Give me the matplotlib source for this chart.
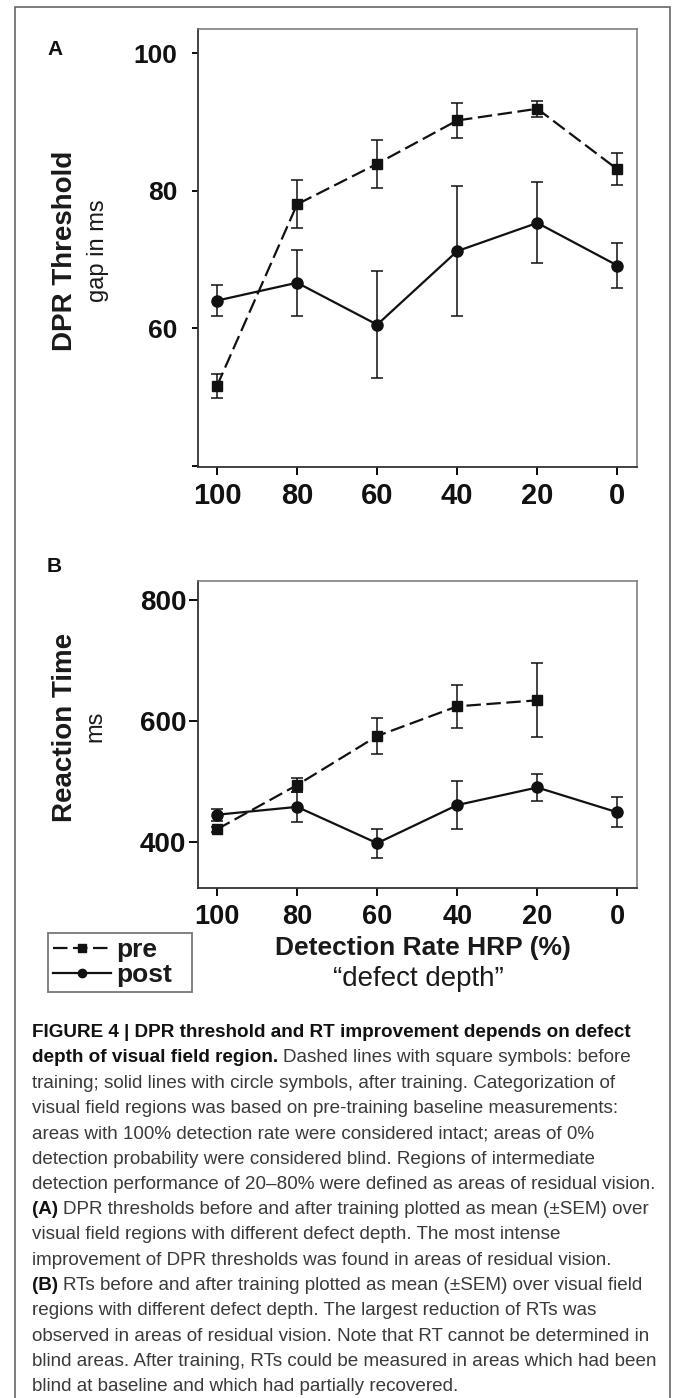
import numpy as np
import matplotlib
matplotlib.use('Agg')
import matplotlib.pyplot as plt
from matplotlib.patches import Rectangle

plt.rcParams['font.family'] = ['Liberation Sans', 'DejaVu Sans']

# ---------------- data ----------------
detection = [100, 80, 60, 40, 20, 0]
xtick_labels = ['100', '80', '60', '40', '20', '0']

dpr_pre = [51.6, 78.0, 83.9, 90.2, 91.9, 83.1]
dpr_pre_sem = [1.7, 3.5, 3.5, 2.5, 1.2, 2.3]
dpr_post = [64.0, 66.6, 60.5, 71.2, 75.3, 69.1]
dpr_post_sem = [2.3, 4.8, 7.8, 9.4, 5.9, 3.3]

rt_pre = [421, 494, 575, 624, 634, np.nan]
rt_pre_sem = [4, 12, 29, 36, 61, np.nan]
rt_post = [445, 458, 398, 461, 490, 449]
rt_post_sem = [10, 25, 24, 40, 23, 25]

dpr_yticks = [40, 60, 80, 100]
dpr_yticklabels = ['', '60', '80', '100']
rt_yticks = [400, 600, 800]
rt_yticklabels = ['400', '600', '800']

caption_lines = [
    [("FIGURE 4 | DPR threshold and RT improvement depends on defect", True)],
    [("depth of visual field region.", True), ("Dashed lines with square symbols: before", False)],
    [("training; solid lines with circle symbols, after training. Categorization of", False)],
    [("visual field regions was based on pre-training baseline measurements:", False)],
    [("areas with 100% detection rate were considered intact; areas of 0%", False)],
    [("detection probability were considered blind. Regions of intermediate", False)],
    [("detection performance of 20\u201380% were defined as areas of residual vision.", False)],
    [("(A)", True), ("DPR thresholds before and after training plotted as mean (\u00b1SEM) over", False)],
    [("visual field regions with different defect depth. The most intense", False)],
    [("improvement of DPR thresholds was found in areas of residual vision.", False)],
    [("(B)", True), ("RTs before and after training plotted as mean (\u00b1SEM) over visual field", False)],
    [("regions with different defect depth. The largest reduction of RTs was", False)],
    [("observed in areas of residual vision. Note that RT cannot be determined in", False)],
    [("blind areas. After training, RTs could be measured in areas which had been", False)],
    [("blind at baseline and which had partially recovered.", False)],
]

# ---------------- figure ----------------
W, H = 673, 1398
fig = plt.figure(figsize=(W / 100, H / 100), dpi=100)
fig.patch.set_facecolor('white')


def fx(px):
    return px / W


def fy(py):
    return 1 - py / H


PT = 72 / 100  # points per pixel

axA = fig.add_axes([fx(198), fy(467), fx(637) - fx(198), fy(29) - fy(467)])
axB = fig.add_axes([fx(198), fy(888), fx(637) - fx(198), fy(581) - fy(888)])

INK = '#111111'


def draw(ax, pre, pre_e, post, post_e):
    ax.errorbar(detection, post, yerr=post_e, fmt='none', ecolor=INK,
                elinewidth=1.1, capsize=6 * PT, capthick=1.1, zorder=2)
    ax.errorbar(detection, pre, yerr=pre_e, fmt='none', ecolor=INK,
                elinewidth=1.1, capsize=6 * PT, capthick=1.1, zorder=2)
    lpost, = ax.plot(detection, post, ls='-', color=INK, lw=1.6,
                     marker='o', ms=8, mfc=INK, mec=INK, zorder=3)
    lpre, = ax.plot(detection, pre, ls=(0, (6.5, 2.5)), color=INK, lw=1.6,
                    marker='s', ms=7.3, mfc=INK, mec=INK, zorder=3)
    return lpre, lpost


draw(axA, dpr_pre, dpr_pre_sem, dpr_post, dpr_post_sem)
lpre, lpost = draw(axB, rt_pre, rt_pre_sem, rt_post, rt_post_sem)

for ax in (axA, axB):
    ax.set_xlim(104.75, -4.9)
    ax.set_xticks(detection)
    ax.set_xticklabels(xtick_labels, fontweight='bold')
    for s in ('left', 'bottom'):
        ax.spines[s].set_color('#333333')
        ax.spines[s].set_linewidth(1.3)
    for s in ('top', 'right'):
        ax.spines[s].set_color('#777777')
        ax.spines[s].set_linewidth(1.1)
    ax.set_facecolor('white')

axA.set_ylim(39.8, 103.5)
axA.set_yticks(dpr_yticks)
axA.set_yticklabels(dpr_yticklabels, fontweight='bold')
axA.tick_params(axis='x', direction='out', length=8 * PT, width=2 * PT,
                labelsize=21, pad=5, colors='#111111')
axA.tick_params(axis='y', direction='out', length=6 * PT, width=2 * PT,
                labelsize=19, pad=10.5, colors='#111111')

axB.set_ylim(324, 831)
axB.set_yticks(rt_yticks)
axB.set_yticklabels(rt_yticklabels, fontweight='bold')
axB.tick_params(axis='x', direction='out', length=8 * PT, width=2 * PT,
                labelsize=19.5, pad=6, colors='#111111')
axB.tick_params(axis='y', direction='out', length=9 * PT, width=2 * PT,
                labelsize=20, pad=2, colors='#111111')

# panel letters
fig.text(fx(47), fy(55), 'A', fontsize=15, fontweight='bold', color=INK,
         ha='left', va='baseline')
fig.text(fx(47), fy(572), 'B', fontsize=15, fontweight='bold', color=INK,
         ha='left', va='baseline')

# y labels
fig.text(fx(72), fy(251), 'DPR Threshold', rotation=90, rotation_mode='anchor',
         ha='center', va='baseline', fontsize=20, fontweight='bold', color='#1a1a1a')
fig.text(fx(104), fy(251), 'gap in ms', rotation=90, rotation_mode='anchor',
         ha='center', va='baseline', fontsize=17, color='#1a1a1a')
fig.text(fx(72), fy(727), 'Reaction Time', rotation=90, rotation_mode='anchor',
         ha='center', va='baseline', fontsize=20, fontweight='bold', color='#1a1a1a')
fig.text(fx(101), fy(726), 'ms', rotation=90, rotation_mode='anchor',
         ha='center', va='baseline', fontsize=17, color='#1a1a1a')

# x label
fig.text(fx(423), fy(955), 'Detection Rate HRP (%)', ha='center', va='baseline',
         fontsize=19, fontweight='bold', color='#1a1a1a')
fig.text(fx(418), fy(986), '\u201cdefect depth\u201d', ha='center', va='baseline',
         fontsize=20, color='#1a1a1a')

# legend
leg = fig.legend(handles=[lpre, lpost], labels=['pre', 'post'], loc='upper left',
                 bbox_to_anchor=(fx(48), fy(990), fx(192) - fx(48), fy(933) - fy(990)),
                 bbox_transform=fig.transFigure, mode='expand',
                 frameon=True, fancybox=False, edgecolor='#555555',
                 prop={'size': 19, 'weight': 'bold'}, handlelength=2.2,
                 handletextpad=0.2, borderpad=0.2, labelspacing=0.02,
                 borderaxespad=0, markerscale=0.75)
leg.get_frame().set_linewidth(1.3)
for t in leg.get_texts():
    t.set_color('#1a1a1a')

# outer frame
fig.add_artist(Rectangle((fx(15), fy(1420)), fx(670) - fx(15), fy(7) - fy(1420),
                         transform=fig.transFigure, fill=False, ec='#666666',
                         lw=1.2, clip_on=False))

# caption
renderer = fig.canvas.get_renderer()
probe = fig.text(0, 0, caption_lines[13][0][0], fontsize=12)
pw = probe.get_window_extent(renderer).width
probe.remove()
cap_size = 12 * 630 / pw

y0 = 1037
dy = 25.3
for i, segs in enumerate(caption_lines):
    xpix = 32
    ypix = y0 + i * dy
    for j, (txt, bold) in enumerate(segs):
        t = fig.text(fx(xpix), fy(ypix), txt, fontsize=cap_size,
                     fontweight='bold' if bold else 'normal',
                     color='#111111' if bold else '#3a3a3a',
                     ha='left', va='baseline')
        bb = t.get_window_extent(renderer)
        xpix = bb.x1 + 0.278 * cap_size / PT

fig.savefig('out.png', dpi=100, facecolor='white')
